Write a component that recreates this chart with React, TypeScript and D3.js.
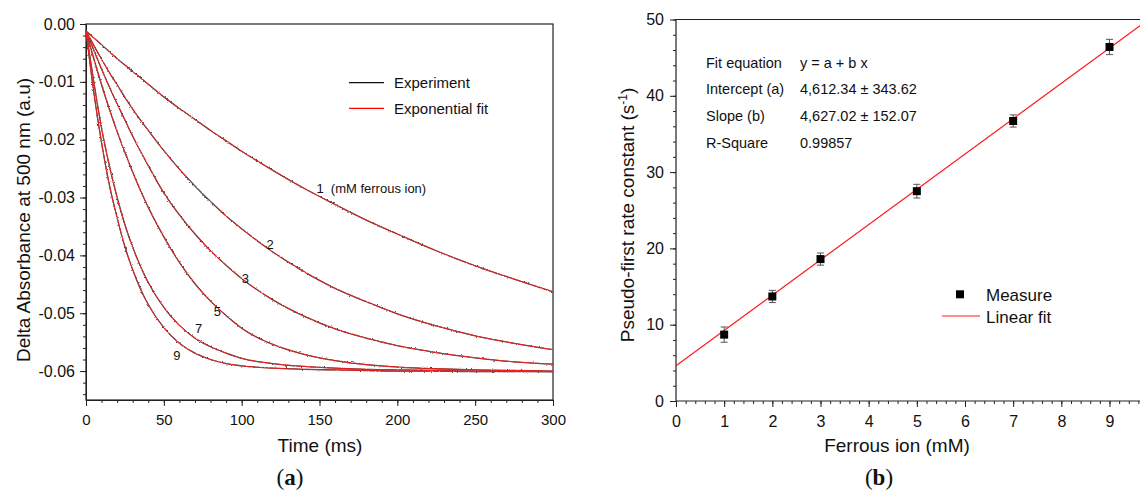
import React, { useEffect, useRef } from 'react';
import * as d3 from 'd3';

// ---- panel (a): absorbance traces ----
const timeMs = [0, 5, 10, 15, 20, 25, 30, 35, 40, 50, 60, 70, 80, 90, 100, 120, 140, 160, 180, 200, 225, 250, 275, 300];
const trace1 = [-0.0012, -0.0024, -0.0036, -0.0048, -0.006, -0.0071, -0.0082, -0.0093, -0.0104, -0.0126, -0.0146, -0.0165, -0.0184, -0.0202, -0.022, -0.0253, -0.0284, -0.0312, -0.0339, -0.0363, -0.0392, -0.0418, -0.0441, -0.0463];
const trace2 = [-0.0012, -0.0037, -0.0061, -0.0084, -0.0105, -0.0127, -0.0147, -0.0166, -0.0184, -0.0219, -0.0251, -0.028, -0.0307, -0.0332, -0.0354, -0.0394, -0.0428, -0.0457, -0.048, -0.0501, -0.0522, -0.0539, -0.0552, -0.0563];
const trace3 = [-0.0012, -0.0045, -0.0078, -0.0109, -0.0138, -0.0166, -0.0194, -0.022, -0.0245, -0.0292, -0.033, -0.0363, -0.0392, -0.0417, -0.044, -0.0477, -0.0505, -0.0527, -0.0543, -0.0556, -0.0568, -0.0577, -0.0584, -0.0588];
const trace5 = [-0.0012, -0.006, -0.0105, -0.0147, -0.0186, -0.0222, -0.0256, -0.0288, -0.0317, -0.0368, -0.0412, -0.0449, -0.0479, -0.0504, -0.0526, -0.0554, -0.0571, -0.0582, -0.0589, -0.0593, -0.0596, -0.0598, -0.0599, -0.06];
const trace7 = [-0.0012, -0.01, -0.018, -0.0245, -0.03, -0.0347, -0.0386, -0.0419, -0.0447, -0.049, -0.0521, -0.0543, -0.0558, -0.0569, -0.0578, -0.0587, -0.0592, -0.0595, -0.0597, -0.0598, -0.0599, -0.06, -0.06, -0.0601];
const trace9 = [-0.0012, -0.0118, -0.0205, -0.0278, -0.0335, -0.0385, -0.0425, -0.0458, -0.0485, -0.0525, -0.0552, -0.0569, -0.058, -0.0587, -0.0591, -0.0595, -0.0597, -0.0598, -0.0599, -0.06, -0.06, -0.0601, -0.0601, -0.0601];
const traces = [trace1, trace2, trace3, trace5, trace7, trace9];

// curve labels: text, time (ms), value where the label sits
const traceLabels = ['1  (mM ferrous ion)', '2', '3', '5', '7', '9'];
const labelTime = [148, 116, 100, 82, 70, 56];
const labelValue = [-0.0292, -0.0389, -0.0447, -0.0505, -0.0535, -0.058];

const timeTicks = [0, 50, 100, 150, 200, 250, 300];
const absTicks = [0, -0.01, -0.02, -0.03, -0.04, -0.05, -0.06];
const absTickLabels = ['0.00', '-0.01', '-0.02', '-0.03', '-0.04', '-0.05', '-0.06'];

// ---- panel (b): rate constants ----
const ferrousMM = [1, 2, 3, 5, 7, 9];
const rateConst = [8.7, 13.7, 18.6, 27.5, 36.7, 46.4];
const rateErr = [1.0, 0.8, 0.8, 0.9, 0.8, 1.0];
const fitIntercept = 4.61234;
const fitSlope = 4.62702;
const ionTicks = [0, 1, 2, 3, 4, 5, 6, 7, 8, 9];
const rateTicks = [0, 10, 20, 30, 40, 50];
const fitRows = [
  ['Fit equation', 'y = a + b x'],
  ['Intercept (a)', '4,612.34 \u00B1 343.62'],
  ['Slope (b)', '4,627.02 \u00B1 152.07'],
  ['R-Square', '0.99857'],
];

const FONT = 'Liberation Sans, Arial, sans-serif';

const App = () => {
  const ref = useRef<SVGSVGElement>(null);

  useEffect(() => {
    const svg = d3.select(ref.current);
    svg.selectAll('*').remove();

    const defs = svg.append('defs');
    // slight jitter so the experimental trace looks noisy under the fit
    const f = defs.append('filter').attr('id', 'jitter').attr('x', '-5%').attr('y', '-5%').attr('width', '110%').attr('height', '110%');
    f.append('feTurbulence').attr('type', 'fractalNoise').attr('baseFrequency', 0.8).attr('numOctaves', 1).attr('seed', 4).attr('result', 'n');
    f.append('feDisplacementMap').attr('in', 'SourceGraphic').attr('in2', 'n').attr('scale', 2.6).attr('xChannelSelector', 'R').attr('yChannelSelector', 'G');

    // ================= panel (a) =================
    const xA = d3.scaleLinear().domain([0, 300]).range([86, 553]);
    const yA = d3.scaleLinear().domain([-0.065, 0]).range([400, 24]);

    const a = svg.append('g').attr('font-family', FONT);

    // minor ticks
    a.append('g').attr('transform', 'translate(0,400)')
      .call(d3.axisBottom(xA).tickValues(d3.range(0, 301, 10)).tickSize(3).tickFormat(() => ''))
      .call((g) => g.select('.domain').remove());
    a.append('g').attr('transform', 'translate(86,0)')
      .call(d3.axisLeft(yA).tickValues(d3.range(0, 33).map((i) => -i * 0.002)).tickSize(3).tickFormat(() => ''))
      .call((g) => g.select('.domain').remove());

    const axA = a.append('g').attr('transform', 'translate(0,400)')
      .call(d3.axisBottom(xA).tickValues(timeTicks).tickSize(6).tickSizeOuter(0).tickPadding(8));
    axA.selectAll('text').attr('font-size', 15);
    const ayA = a.append('g').attr('transform', 'translate(86,0)')
      .call(d3.axisLeft(yA).tickValues(absTicks).tickSize(6).tickSizeOuter(0).tickPadding(5)
        .tickFormat((d, i) => absTickLabels[i]));
    ayA.selectAll('text').attr('font-size', 16);
    a.selectAll('.tick line, .domain').attr('stroke', '#222');
    a.selectAll('.tick text').attr('fill', '#111').attr('font-family', FONT);

    a.append('rect').attr('x', 86).attr('y', 24).attr('width', 467).attr('height', 376)
      .attr('fill', 'none').attr('stroke', '#222').attr('stroke-width', 1.2);

    const line = d3.line<number>().x((d, i) => xA(timeMs[i])).y((d) => yA(d)).curve(d3.curveMonotoneX);
    traces.forEach((t) => {
      a.append('path').attr('d', line(t)).attr('fill', 'none').attr('stroke', '#444')
        .attr('stroke-width', 1.3).attr('filter', 'url(#jitter)');
    });
    traces.forEach((t) => {
      a.append('path').attr('d', line(t)).attr('fill', 'none').attr('stroke', '#ff1a1a').attr('stroke-width', 0.9);
    });

    traceLabels.forEach((lab, i) => {
      a.append('text').attr('x', xA(labelTime[i])).attr('y', yA(labelValue[i]))
        .attr('font-size', 13).attr('fill', '#111').attr('xml:space', 'preserve').style('white-space', 'pre').text(lab);
    });

    // legend (a)
    const legA = [['Experiment', '#111'], ['Exponential fit', '#ff0000']];
    legA.forEach(([name, col], i) => {
      const y = 82.7 + i * 25.6;
      a.append('line').attr('x1', 349).attr('x2', 384).attr('y1', y).attr('y2', y).attr('stroke', col).attr('stroke-width', 1.2);
      a.append('text').attr('x', 394).attr('y', y + 5.3).attr('font-size', 15).attr('fill', '#111').text(name);
    });

    a.append('text').attr('x', 320).attr('y', 451.5).attr('text-anchor', 'middle').attr('font-size', 19).attr('fill', '#111').text('Time (ms)');
    a.append('text').attr('transform', 'translate(30,220) rotate(-90)').attr('text-anchor', 'middle')
      .attr('font-size', 19).attr('fill', '#111').text('Delta Absorbance at 500 nm (a.u)');

    // ================= panel (b) =================
    const xB = d3.scaleLinear().domain([0, 9]).range([676, 1109.5]);
    const yB = d3.scaleLinear().domain([0, 50]).range([401, 19.5]);
    const b = svg.append('g').attr('font-family', FONT);

    b.append('clipPath').attr('id', 'clipB').append('rect').attr('x', 676).attr('y', 19.5).attr('width', 500).attr('height', 381.5);

    b.append('g').attr('transform', 'translate(0,401)')
      .call(d3.axisBottom(xB).tickValues(d3.range(0, 49).map((i) => i * 0.2)).tickSize(3).tickFormat(() => ''))
      .call((g) => g.select('.domain').remove());
    b.append('g').attr('transform', 'translate(676,0)')
      .call(d3.axisLeft(yB).tickValues(d3.range(0, 51, 2)).tickSize(3).tickFormat(() => ''))
      .call((g) => g.select('.domain').remove());
    const axB = b.append('g').attr('transform', 'translate(0,401)')
      .call(d3.axisBottom(xB).tickValues(ionTicks).tickSize(6).tickSizeOuter(0).tickPadding(9));
    axB.selectAll('text').attr('font-size', 16);
    const ayB = b.append('g').attr('transform', 'translate(676,0)')
      .call(d3.axisLeft(yB).tickValues(rateTicks).tickSize(6).tickSizeOuter(0).tickPadding(6));
    ayB.selectAll('text').attr('font-size', 16);
    b.selectAll('.domain').remove();
    b.selectAll('.tick line').attr('stroke', '#222');
    b.selectAll('.tick text').attr('fill', '#111').attr('font-family', FONT);

    // frame (runs off the right edge)
    b.append('path').attr('d', 'M1150,19.5H676V401H1150').attr('fill', 'none').attr('stroke', '#222').attr('stroke-width', 1.2);

    // linear fit
    b.append('line').attr('clip-path', 'url(#clipB)')
      .attr('x1', xB(0)).attr('y1', yB(fitIntercept))
      .attr('x2', xB(10)).attr('y2', yB(fitIntercept + fitSlope * 10))
      .attr('stroke', '#ff1a1a').attr('stroke-width', 1.2);

    // error bars and markers
    ferrousMM.forEach((x, i) => {
      const cx = xB(x);
      const y1 = yB(rateConst[i] + rateErr[i]);
      const y2 = yB(rateConst[i] - rateErr[i]);
      const eb = b.append('g').attr('stroke', '#555').attr('stroke-width', 1);
      eb.append('line').attr('x1', cx).attr('x2', cx).attr('y1', y1).attr('y2', y2);
      eb.append('line').attr('x1', cx - 3.5).attr('x2', cx + 3.5).attr('y1', y1).attr('y2', y1);
      eb.append('line').attr('x1', cx - 3.5).attr('x2', cx + 3.5).attr('y1', y2).attr('y2', y2);
      b.append('rect').attr('x', cx - 4).attr('y', yB(rateConst[i]) - 4).attr('width', 8).attr('height', 8).attr('fill', '#000');
    });

    // fit table
    fitRows.forEach(([k, v], i) => {
      const y = 67.7 + i * 26.7;
      b.append('text').attr('x', 706).attr('y', y).attr('font-size', 14.5).attr('fill', '#111').text(k);
      b.append('text').attr('x', 800).attr('y', y).attr('font-size', 14.5).attr('fill', '#111').text(v);
    });

    // legend (b)
    b.append('rect').attr('x', 956).attr('y', 290.3).attr('width', 8).attr('height', 8).attr('fill', '#000');
    b.append('text').attr('x', 986).attr('y', 300.5).attr('font-size', 17).attr('fill', '#111').text('Measure');
    b.append('line').attr('x1', 942).attr('x2', 980).attr('y1', 316).attr('y2', 316).attr('stroke', '#ff1a1a').attr('stroke-width', 1.2);
    b.append('text').attr('x', 986).attr('y', 322.5).attr('font-size', 17).attr('fill', '#111').text('Linear fit');

    b.append('text').attr('x', 897).attr('y', 451.5).attr('text-anchor', 'middle').attr('font-size', 19).attr('fill', '#111').text('Ferrous ion (mM)');
    const yl = b.append('text').attr('transform', 'translate(634,215) rotate(-90)').attr('text-anchor', 'middle')
      .attr('font-size', 19).attr('fill', '#111');
    yl.append('tspan').text('Pseudo-first rate constant (s');
    yl.append('tspan').attr('dy', -7).attr('font-size', 12).text('-1');
    yl.append('tspan').attr('dy', 7).text(')');

    // panel captions
    const cap = (x: number, letter: string) => {
      const t = svg.append('text').attr('x', x).attr('y', 485).attr('text-anchor', 'middle')
        .attr('font-family', 'Liberation Serif, DejaVu Serif, serif').attr('font-size', 23).attr('fill', '#111');
      t.append('tspan').text('(');
      t.append('tspan').attr('font-weight', 'bold').text(letter);
      t.append('tspan').text(')');
    };
    cap(290, 'a');
    cap(879, 'b');
  }, []);

  return (
    <svg ref={ref} width={1140} height={490}
      style={{ position: 'absolute', left: 0, top: 0, background: '#fff' }} />
  );
};

export default App;
